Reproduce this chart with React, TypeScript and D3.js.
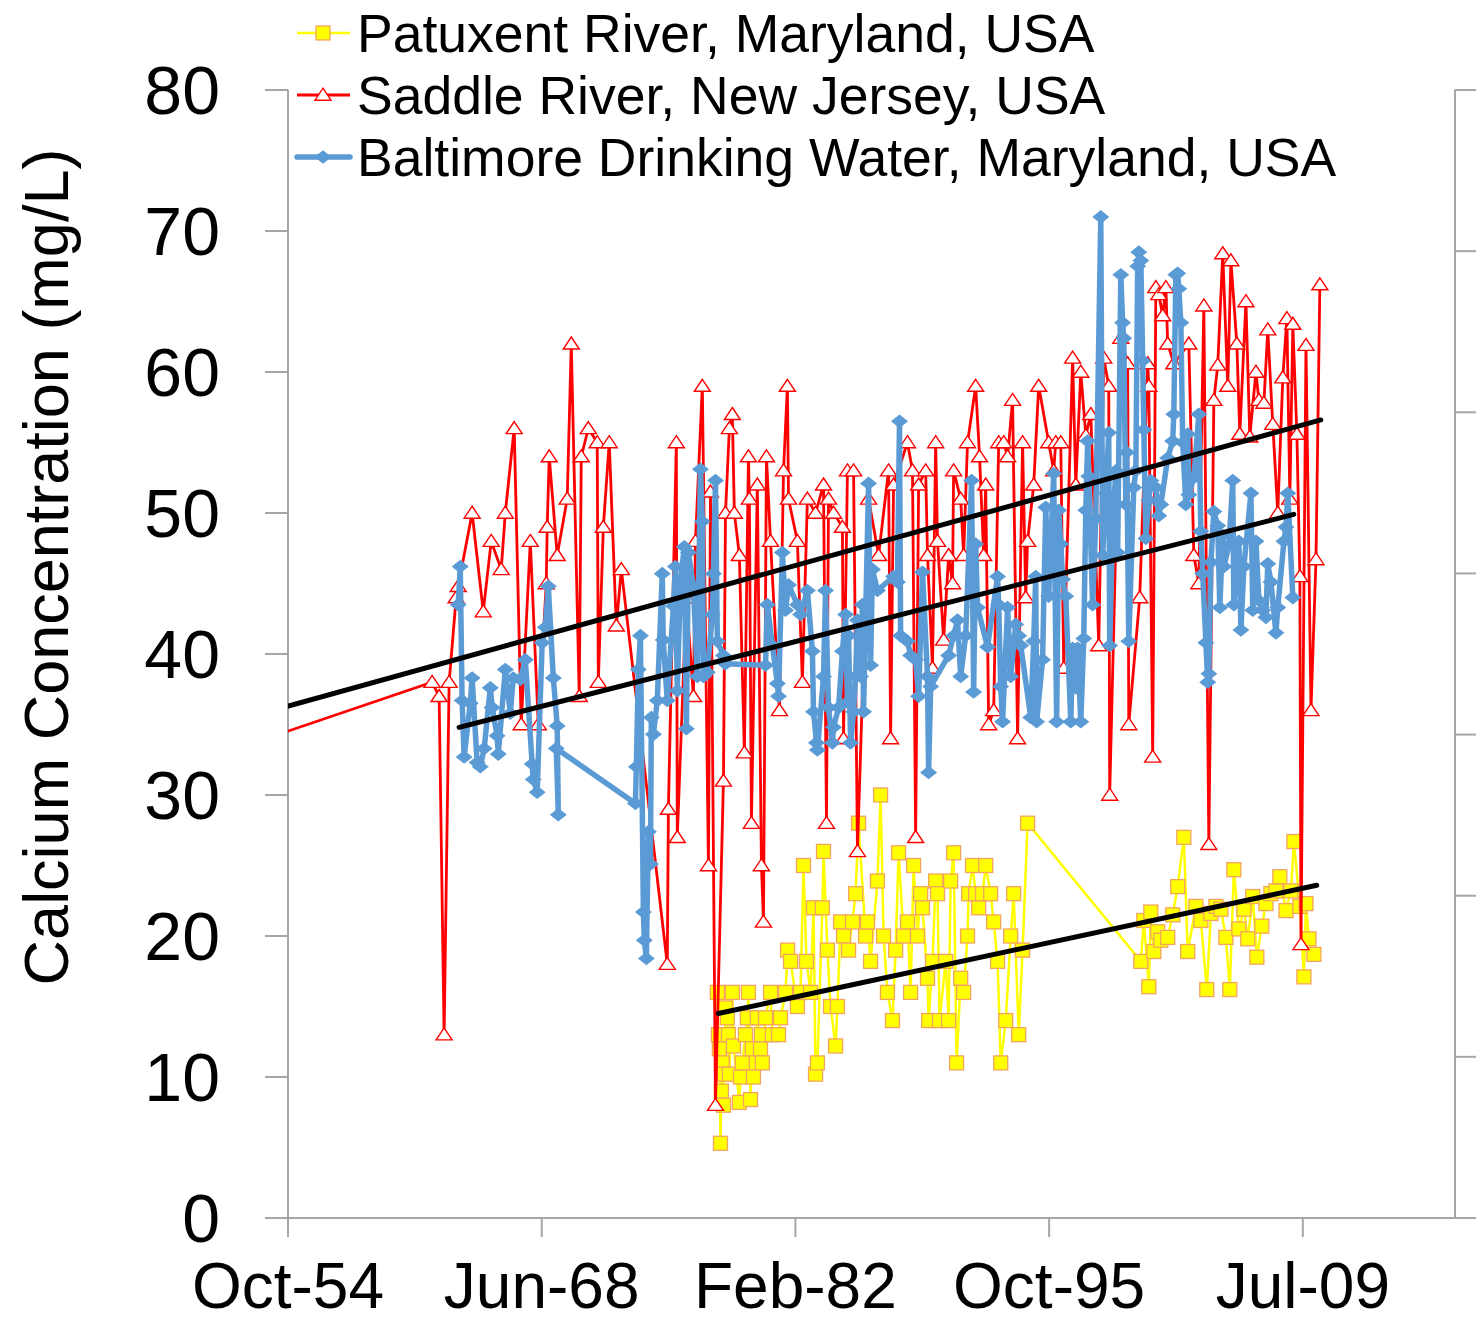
import React from 'react';
import * as d3 from 'd3';

// ---------- data (decimal year, mg/L) ----------
const seriesNames = [
  'Patuxent River, Maryland, USA',
  'Saddle River, New Jersey, USA',
  'Baltimore Drinking Water, Maryland, USA',
];

const patuxent: [number, number][] = [
  [1977.92, 16], [1977.98, 13], [1978.03, 12], [1978.09, 5.3], [1978.14, 9], [1978.19, 11], [1978.25, 8],
  [1978.30, 10.2], [1978.36, 14.9], [1978.46, 14.2], [1978.52, 13], [1978.57, 10.2], [1978.73, 16],
  [1978.79, 12.2], [1979.11, 8.2], [1979.17, 10], [1979.27, 11], [1979.44, 13], [1979.54, 14.2],
  [1979.60, 16], [1979.71, 8.4], [1979.81, 12], [1979.87, 10], [1980.08, 14.2], [1980.25, 12],
  [1980.30, 13], [1980.35, 11], [1980.52, 14.2], [1980.79, 16], [1980.89, 13], [1981.22, 13],
  [1981.33, 14.2], [1981.60, 16], [1981.71, 19], [1981.87, 18.2], [1982.24, 15], [1982.41, 16],
  [1982.57, 25], [1982.73, 18.2], [1982.95, 16], [1983.11, 22], [1983.22, 10.2], [1983.32, 11],
  [1983.59, 22], [1983.65, 26], [1983.86, 19], [1984.03, 15], [1984.30, 12.2], [1984.40, 15],
  [1984.57, 21], [1984.73, 20], [1985.00, 19], [1985.21, 21], [1985.38, 23], [1985.54, 28],
  [1985.92, 20], [1986.02, 21], [1986.19, 18.2], [1986.56, 23.9], [1986.73, 30], [1986.89, 20],
  [1987.10, 16], [1987.37, 14], [1987.54, 19], [1987.70, 25.9], [1987.97, 20], [1988.18, 21],
  [1988.35, 16], [1988.51, 25], [1988.72, 20], [1988.89, 23], [1988.99, 22], [1989.26, 17],
  [1989.32, 14], [1989.53, 18.2], [1989.70, 23.9], [1989.80, 23], [1989.91, 14], [1990.24, 18.2],
  [1990.40, 14], [1990.51, 23.9], [1990.67, 25.9], [1990.83, 11], [1991.05, 17], [1991.21, 16],
  [1991.42, 20], [1991.48, 23], [1991.69, 25], [1991.86, 23], [1992.02, 22], [1992.23, 23],
  [1992.40, 25], [1992.67, 23], [1992.83, 21], [1993.04, 18.2], [1993.21, 11], [1993.48, 14],
  [1993.75, 20], [1993.91, 23], [1994.18, 13], [1994.39, 19], [1994.66, 28],
  [2000.77, 18.2], [2000.93, 21.1], [2001.20, 16.4], [2001.31, 21.7], [2001.47, 18.9], [2001.68, 20.3],
  [2001.85, 19.7], [2002.22, 19.9], [2002.49, 21.5], [2002.76, 23.5], [2003.09, 27], [2003.30, 18.9],
  [2003.74, 22.1], [2004.01, 21.1], [2004.33, 16.2], [2004.55, 21.6], [2004.82, 22.1], [2005.09, 21.9],
  [2005.36, 19.9], [2005.57, 16.2], [2005.79, 24.7], [2006.06, 20.5], [2006.33, 21.9], [2006.54, 19.8],
  [2006.81, 22.8], [2007.03, 18.5], [2007.30, 20.7], [2007.52, 22.3], [2007.79, 23], [2008.06, 23.2],
  [2008.27, 24.2], [2008.60, 21.8], [2008.87, 23.2], [2009.03, 26.7], [2009.35, 22.1], [2009.57, 17.1],
  [2009.68, 22.3], [2009.84, 19.8], [2010.11, 18.7],
];

const saddle: [number, number][] = [
  [1952.0, 33.3],
  [1962.53, 38], [1962.91, 37], [1963.18, 13], [1963.45, 38], [1963.83, 44], [1963.94, 44.8],
  [1964.69, 50], [1965.29, 43], [1965.72, 48], [1966.26, 46], [1966.48, 50], [1966.96, 56],
  [1967.34, 35], [1967.83, 48], [1968.26, 35], [1968.69, 45], [1968.74, 49], [1968.85, 54],
  [1969.28, 47], [1969.82, 51], [1970.04, 62], [1970.47, 37], [1970.58, 54], [1970.96, 56],
  [1971.44, 55], [1971.50, 38], [1971.77, 49], [1972.09, 55], [1972.47, 42], [1972.74, 46],
  [1975.22, 18], [1975.28, 29], [1975.71, 55], [1975.76, 27],
  [1976.25, 44], [1976.63, 37], [1976.74, 48],
  [1977.11, 59], [1977.44, 25], [1977.55, 51.5], [1977.82, 8],
  [1978.25, 31], [1978.36, 50], [1978.57, 56], [1978.73, 57], [1978.84, 50],
  [1979.11, 47], [1979.38, 33], [1979.60, 54], [1979.65, 51], [1979.76, 28],
  [1980.08, 52], [1980.30, 25], [1980.41, 21], [1980.57, 54], [1980.79, 48],
  [1981.27, 36], [1981.49, 53], [1981.70, 59], [1981.76, 51],
  [1982.24, 48], [1982.51, 38], [1982.78, 51],
  [1983.22, 50], [1983.65, 52], [1983.81, 28], [1983.92, 51],
  [1984.19, 50], [1984.67, 49], [1984.73, 34], [1984.94, 53],
  [1985.27, 53], [1985.48, 26], [1986.08, 51], [1986.62, 47],
  [1987.16, 53], [1987.27, 34], [1987.43, 52],
  [1988.18, 55], [1988.45, 53], [1988.62, 27], [1988.78, 52],
  [1989.16, 53], [1989.26, 47], [1989.53, 39], [1989.70, 55], [1989.80, 48],
  [1990.13, 41], [1990.40, 47], [1990.61, 45], [1990.67, 53],
  [1991.05, 51], [1991.21, 47], [1991.42, 55], [1991.86, 59],
  [1992.07, 54], [1992.29, 47], [1992.40, 52], [1992.56, 35], [1992.83, 36],
  [1993.10, 55], [1993.37, 55], [1993.58, 54], [1993.85, 58],
  [1994.12, 34], [1994.39, 55], [1994.56, 44], [1994.66, 48], [1994.99, 52],
  [1995.26, 59], [1995.80, 55],
  [1996.07, 53], [1996.18, 55], [1996.45, 55], [1996.61, 39],
  [1997.09, 61], [1997.26, 52], [1997.53, 60], [1997.80, 55.5],
  [1998.07, 57], [1998.50, 40.6], [1998.77, 61],
  [1999.04, 59], [1999.09, 30], [1999.69, 62.4],
  [2000.06, 60.6], [2000.12, 35], [2000.71, 44],
  [2001.14, 60.6], [2001.20, 59], [2001.41, 32.7], [2001.58, 66], [2001.74, 65.5], [2001.95, 64],
  [2002.12, 66], [2002.22, 62], [2002.55, 60.6],
  [2003.36, 62], [2003.63, 47], [2003.90, 45],
  [2004.17, 64.7], [2004.44, 26.5], [2004.71, 58], [2004.92, 60.5],
  [2005.19, 68.4], [2005.46, 59], [2005.63, 67.9], [2005.95, 62],
  [2006.11, 55.6], [2006.44, 65], [2006.65, 55.4], [2006.98, 60],
  [2007.14, 58], [2007.41, 57.8], [2007.62, 63], [2007.89, 56.3],
  [2008.16, 50], [2008.43, 59.6], [2008.65, 63.8], [2008.81, 51], [2008.97, 63.4],
  [2009.19, 55.6], [2009.35, 45.5], [2009.41, 19.4], [2009.68, 61.9], [2009.95, 36],
  [2010.22, 46.7], [2010.43, 66.2],
];

const baltimore: [number, number][] = [
  [1963.94, 43.5], [1964.05, 46.2], [1964.15, 36.7], [1964.26, 32.7], [1964.59, 36.5], [1964.69, 38.3],
  [1964.96, 32.3], [1965.13, 32], [1965.34, 33.3], [1965.67, 37.6], [1965.77, 36.2], [1966.04, 34.2],
  [1966.10, 32.9], [1966.48, 38.9], [1966.75, 35.8], [1966.91, 38.3], [1967.29, 38.2], [1967.56, 39.6],
  [1967.93, 32.2], [1967.99, 31.1], [1968.20, 30.2], [1968.47, 40.8], [1968.64, 41.9], [1968.80, 44.8],
  [1969.07, 38.3], [1969.28, 34.9], [1969.34, 28.6], [1969.23, 33.3],
  [1973.50, 29.4], [1973.55, 32], [1973.66, 38.9], [1973.77, 41.3], [1973.93, 21.7], [1973.98, 19.7],
  [1974.09, 18.4], [1974.20, 27.4], [1974.31, 25.1], [1974.36, 35.5], [1974.47, 34.3], [1974.68, 36.7],
  [1974.95, 45.7], [1975.00, 41], [1975.22, 36.7], [1975.55, 43.4], [1975.66, 46.2], [1975.76, 37.4],
  [1975.93, 45.1], [1976.14, 47.6], [1976.25, 34.7], [1976.36, 47.2], [1976.63, 44.8], [1976.84, 38.4],
  [1977.01, 53.1], [1977.11, 49.4], [1977.17, 38.4], [1977.38, 38.7], [1977.65, 42.8], [1977.71, 45.7],
  [1977.82, 52.3], [1977.92, 40.9], [1978.25, 39.9], [1978.36, 39.3],
  [1980.52, 39.2], [1980.62, 43.5], [1980.89, 40.6], [1981.16, 37.9], [1981.22, 37], [1981.43, 47.2],
  [1981.60, 43.1], [1981.76, 44.9], [1982.24, 43.5], [1982.41, 42.8], [1982.78, 44.5], [1983.05, 40.2],
  [1983.11, 35.9], [1983.27, 33.7], [1983.32, 33.2], [1983.65, 38.4], [1983.76, 44.5], [1983.92, 36.2],
  [1984.13, 33.7], [1984.19, 34.8], [1984.46, 36.2], [1984.67, 40.2], [1984.84, 42.8], [1984.94, 36.6],
  [1985.00, 41.3], [1985.11, 33.7], [1985.27, 35.9], [1985.38, 38.4], [1985.48, 42.4], [1985.65, 38.4],
  [1985.75, 43.5], [1985.81, 35.9], [1986.08, 52.1], [1986.19, 39.2], [1986.29, 46], [1986.56, 44.5],
  [1987.43, 45.5], [1987.64, 45.1], [1987.75, 56.5], [1987.81, 41.3], [1988.18, 40.9], [1988.35, 39.9],
  [1988.62, 39.6], [1988.78, 37], [1988.99, 45.8], [1989.26, 38.4], [1989.32, 31.6], [1989.43, 37.7],
  [1990.40, 39.9], [1990.67, 41.3], [1990.88, 42.4], [1991.05, 38.4], [1991.32, 41.3], [1991.64, 52.3],
  [1991.75, 37.3], [1991.86, 47.8], [1991.96, 43.3], [1992.50, 40.5], [1993.04, 45.5], [1993.10, 43.5],
  [1993.21, 37.7], [1993.31, 35.2], [1993.58, 43.3], [1993.75, 38.4], [1994.02, 42.1], [1994.18, 41.3],
  [1994.29, 40.6], [1994.83, 35.5], [1994.99, 40.9], [1995.10, 45.5], [1995.15, 35.2], [1995.47, 39.6],
  [1995.64, 50.4], [1995.80, 44.1], [1996.07, 52.8], [1996.23, 35.2], [1996.34, 50.2], [1996.45, 47.8],
  [1996.55, 45.3], [1996.72, 44.1], [1996.99, 35.2], [1997.09, 40.4], [1997.26, 37.6], [1997.36, 40.4],
  [1997.53, 35.2], [1997.69, 41.1], [1997.80, 50.2], [1997.90, 55.1], [1997.96, 52.6], [1998.17, 43.5],
  [1998.34, 49.6], [1998.61, 71], [1998.71, 47], [1998.88, 51.4], [1999.04, 55.7], [1999.09, 40.6],
  [1999.25, 49], [1999.42, 53], [1999.52, 47.2], [1999.69, 66.9], [1999.79, 63.5], [1999.85, 62.4],
  [1999.96, 50.6], [2000.01, 54.3], [2000.12, 40.9], [2000.39, 51.8], [2000.50, 53], [2000.60, 67.5],
  [2000.66, 68.5], [2000.77, 67.9], [2000.87, 60.8], [2000.93, 55.9], [2001.04, 48.2], [2001.20, 50.9],
  [2001.31, 52.3], [2001.58, 51.8], [2001.74, 49.8], [2001.85, 50.6], [2002.22, 53.9], [2002.49, 55.1],
  [2002.55, 57], [2002.66, 66.9], [2002.76, 67], [2002.82, 65.9], [2002.93, 63.5], [2003.03, 55],
  [2003.20, 50.6], [2003.30, 55.6], [2003.36, 51.3], [2003.63, 52.5], [2003.90, 57], [2004.01, 48.7],
  [2004.11, 45.7], [2004.28, 40.8], [2004.38, 38], [2004.44, 38.6], [2004.55, 46.5], [2004.71, 50.1],
  [2004.92, 49.1], [2005.03, 43.3], [2005.19, 48.4], [2005.25, 46.2], [2005.52, 47.7], [2005.73, 52.3],
  [2005.79, 43.5], [2006.06, 48], [2006.17, 41.7], [2006.33, 46.2], [2006.71, 51.4], [2006.81, 43.1],
  [2006.98, 48], [2007.14, 43.8], [2007.35, 43.1], [2007.52, 42.6], [2007.62, 46.4], [2007.79, 45.1],
  [2008.06, 41.5], [2008.16, 43.3], [2008.49, 48], [2008.60, 49], [2008.70, 51.4], [2008.97, 44],
];

// linear trend lines: [start, end]
const patuxentTrend: [number, number][] = [[1977.97, 14.5], [2010.26, 23.6]];
const saddleTrend: [number, number][] = [[1952.0, 35.3], [2010.48, 56.6]];
const baltimoreTrend: [number, number][] = [[1963.99, 34.8], [2009.02, 49.9]];

// axis: Excel date serials 20000..43000, major unit 5000 days
const xDomain = ['1954-10-04', '2017-09-21'];
const xTickDates = ['1954-10-04', '1968-06-12', '1982-02-18', '1995-10-28', '2009-07-06'];
const yTicks = [0, 10, 20, 30, 40, 50, 60, 70, 80];
const rightTicks = [0, 1, 2, 3, 4, 5, 6, 7];

// ---------- layout ----------
const W = 1476;
const H = 1321;
const plot = { left: 288, right: 1455, top: 90, bottom: 1218 };
const FONT = '"Liberation Sans", Arial, sans-serif';
const AXIS = '#A6A6A6';

const COLORS = {
  yellow: '#FFFF00',
  yellowEdge: '#F4A460',
  red: '#FF0000',
  blue: '#5B9BD5',
};

const parse = d3.timeParse('%Y-%m-%d');
const yearToDate = (y: number) => {
  const yr = Math.floor(y);
  const a = new Date(yr, 0, 1).getTime();
  const b = new Date(yr + 1, 0, 1).getTime();
  return new Date(a + (y - yr) * (b - a));
};

// marker shapes (centred on 0,0)
const diamond = (r: number) => `M0,${-r * 0.8}L${r},0L0,${r * 0.8}L${-r},0Z`;
const triangle = (r: number) => `M0,${-r * 0.85}L${r},${r * 0.65}L${-r},${r * 0.65}Z`;

const App: React.FC = () => {
  const x = d3.scaleTime()
    .domain(xDomain.map(s => parse(s) as Date))
    .range([plot.left, plot.right]);
  const y = d3.scaleLinear().domain([0, 80]).range([plot.bottom, plot.top]);
  const yRight = d3.scaleLinear().domain([0, 7]).range([plot.bottom, plot.top]);

  const line = d3.line<[number, number]>()
    .x(d => x(yearToDate(d[0])))
    .y(d => y(d[1]));

  const fmt = d3.timeFormat('%b-%y');
  const px = (d: [number, number]) => x(yearToDate(d[0]));
  const py = (d: [number, number]) => y(d[1]);

  // legend rows
  const legendY = [33, 95, 157];

  return (
    <svg width={W} height={H} style={{ position: 'absolute', left: 0, top: 0, background: '#fff' }}
      fontFamily={FONT}>
      <defs>
        <clipPath id="plotClip">
          <rect x={plot.left} y={0} width={plot.right - plot.left} height={H} />
        </clipPath>
      </defs>

      {/* axes */}
      <g stroke={AXIS} strokeWidth={2} fill="none">
        <line x1={plot.left} y1={plot.top} x2={plot.left} y2={plot.bottom} />
        <line x1={plot.right} y1={plot.top} x2={plot.right} y2={plot.bottom} />
        <line x1={plot.left - 23} y1={plot.bottom} x2={W} y2={plot.bottom} />
        {yTicks.map(t => (
          <line key={`yt${t}`} x1={plot.left - 23} x2={plot.left} y1={y(t)} y2={y(t)} />
        ))}
        {rightTicks.map(t => (
          <line key={`rt${t}`} x1={plot.right} x2={W} y1={yRight(t)} y2={yRight(t)} />
        ))}
        {xTickDates.map(s => {
          const xx = x(parse(s) as Date);
          return <line key={`xt${s}`} x1={xx} x2={xx} y1={plot.bottom} y2={plot.bottom + 19} />;
        })}
      </g>

      {/* tick labels */}
      <g fill="#000">
        {yTicks.map(t => (
          <text key={`yl${t}`} x={220} y={y(t)} dy="0.36em" textAnchor="end" fontSize={68}>{t}</text>
        ))}
        {xTickDates.map(s => {
          const d = parse(s) as Date;
          return (
            <text key={`xl${s}`} x={x(d)} y={1308} textAnchor="middle" fontSize={64}>{fmt(d)}</text>
          );
        })}
      </g>
      <text transform="translate(68,567) rotate(-90)" textAnchor="middle" fontSize={63} fill="#000">
        Calcium Concentration (mg/L)
      </text>

      {/* series */}
      <g clipPath="url(#plotClip)">
        <path d={line(patuxent) || ''} fill="none" stroke={COLORS.yellow} strokeWidth={2.5} />
        {patuxent.map((d, i) => (
          <rect key={`p${i}`} x={px(d) - 7} y={py(d) - 7} width={14} height={14}
            fill={COLORS.yellow} stroke={COLORS.yellowEdge} strokeWidth={1.3} />
        ))}

        <path d={line(saddle) || ''} fill="none" stroke={COLORS.red} strokeWidth={2.8} />
        {saddle.map((d, i) => (
          <path key={`s${i}`} d={triangle(8)} transform={`translate(${px(d)},${py(d)})`}
            fill="#fff" stroke={COLORS.red} strokeWidth={1.4} />
        ))}

        <path d={line(baltimore) || ''} fill="none" stroke={COLORS.blue} strokeWidth={5.5}
          strokeLinejoin="round" />
        {baltimore.map((d, i) => (
          <path key={`b${i}`} d={diamond(8.5)} transform={`translate(${px(d)},${py(d)})`}
            fill={COLORS.blue} />
        ))}

        {[patuxentTrend, saddleTrend, baltimoreTrend].map((t, i) => (
          <path key={`t${i}`} d={line(t) || ''} fill="none" stroke="#000" strokeWidth={5}
            strokeLinecap="round" />
        ))}
      </g>

      {/* legend */}
      <g fontSize={53.5} fill="#000">
        <line x1={297} x2={350} y1={legendY[0]} y2={legendY[0]} stroke={COLORS.yellow} strokeWidth={2.5} />
        <rect x={316} y={legendY[0] - 7} width={14} height={14} fill={COLORS.yellow}
          stroke={COLORS.yellowEdge} strokeWidth={1.3} />
        <line x1={297} x2={350} y1={legendY[1]} y2={legendY[1]} stroke={COLORS.red} strokeWidth={2.8} />
        <path d={triangle(8)} transform={`translate(323,${legendY[1]})`} fill="#fff"
          stroke={COLORS.red} strokeWidth={1.4} />
        <line x1={297} x2={350} y1={legendY[2]} y2={legendY[2]} stroke={COLORS.blue} strokeWidth={5.5}
          strokeLinecap="round" />
        <path d={diamond(8.5)} transform={`translate(323,${legendY[2]})`} fill={COLORS.blue} />
        {seriesNames.map((n, i) => (
          <text key={n} x={357} y={legendY[i] + 19}>{n}</text>
        ))}
      </g>
    </svg>
  );
};

export default App;
